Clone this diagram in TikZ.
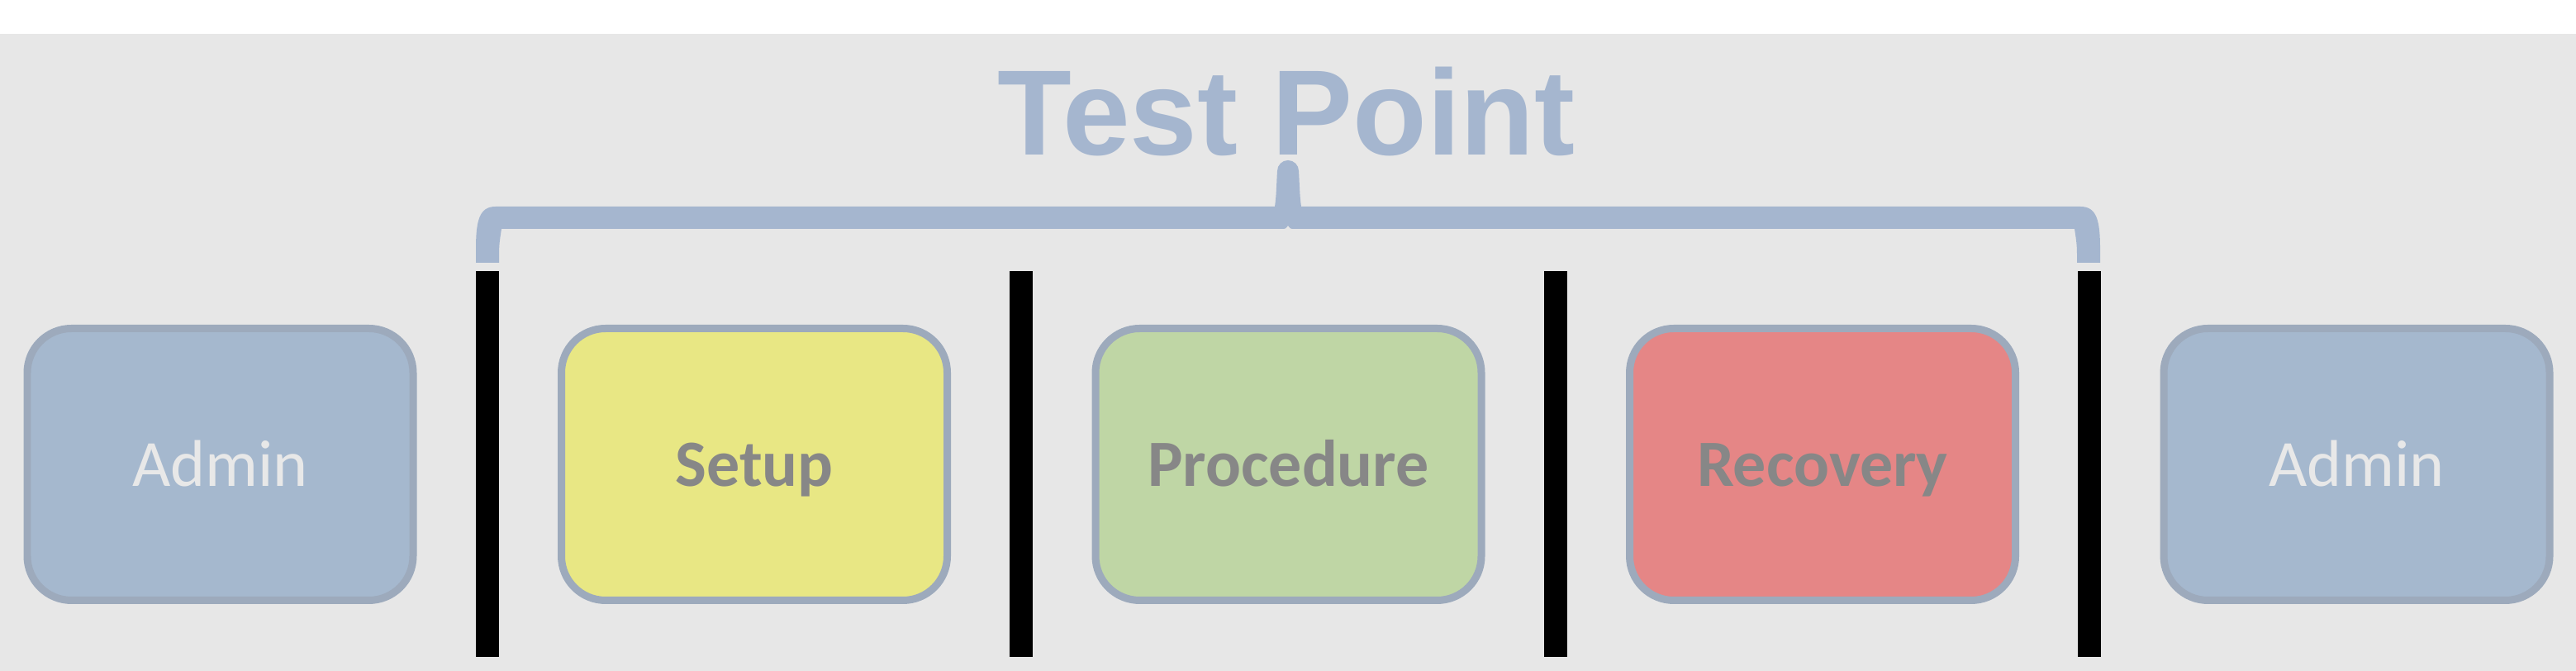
\documentclass[tikz,border=0pt]{standalone}
\usepackage{fontspec}
\setmainfont{Carlito}
\newfontfamily\titlefont{Liberation Sans}
\usepackage{xcolor}
\usetikzlibrary{positioning, calc}

\definecolor{bggrey}{HTML}{E7E7E7}
\definecolor{edgegrey}{HTML}{9DAABC}
\definecolor{adminblue}{HTML}{A5B8CE}
\definecolor{braceblue}{HTML}{A5B6CF}
\definecolor{setupyellow}{HTML}{E8E784}
\definecolor{procgreen}{HTML}{BFD6A5}
\definecolor{recovred}{HTML}{E58686}
\definecolor{txtgrey}{HTML}{878787}
\definecolor{admintxt}{HTML}{E8E8E8}

\begin{document}
\begin{tikzpicture}[
  node distance = 17.95mm,
  phase/.style = {draw=edgegrey, line width=2.56pt, rounded corners=5.35mm,
                  minimum width=46.7mm, minimum height=32.9mm,
                  inner sep=0pt, outer sep=0pt, text height=5.4mm, text depth=0mm,
                  font=\fontsize{22.76}{27}\selectfont\bfseries, text=txtgrey},
  admin/.style = {phase, fill=adminblue,
                  font=\fontsize{22.76}{27}\selectfont, text=admintxt},
  divider/.style = {fill=black, minimum width=2.8mm, minimum height=46.7mm,
                    inner sep=0pt, outer sep=0pt}
]
\useasboundingbox (0,0) rectangle (31.18,8.12);
\fill[white] (0,0) rectangle (31.18,8.12);
\fill[bggrey] (0,0) rectangle (31.18,7.71);

\node[admin] (adm1) at (2.665,2.50) {Admin};
\node[phase, fill=setupyellow, right=of adm1] (setup) {Setup};
\node[phase, fill=procgreen, right=of setup] (proc) {Procedure};
\node[phase, fill=recovred, right=of proc] (recov) {Recovery};
\node[admin, right=of recov] (adm2) {Admin};

\node[divider] (d1) at ($(adm1.east)!0.5!(setup.west)$) {};
\node[divider] (d2) at ($(setup.east)!0.5!(proc.west)$) {};
\node[divider] (d3) at ($(proc.east)!0.5!(recov.west)$) {};
\node[divider] (d4) at ($(recov.east)!0.5!(adm2.west)$) {};

\fill[braceblue] (5.76,4.94) -- (5.76,5.10)
  .. controls (5.76,5.45) and (5.80,5.62) .. (6.00,5.62) -- (15.43,5.62)
  .. controls (15.45,5.75) and (15.45,5.90) .. (15.46,6.05)
  arc[start angle=180, end angle=0, radius=0.13]
  .. controls (15.73,5.90) and (15.73,5.75) .. (15.75,5.62) -- (25.18,5.62)
  .. controls (25.38,5.62) and (25.42,5.45) .. (25.42,5.10) -- (25.42,4.94)
  -- (25.14,4.94) .. controls (25.14,5.15) .. (25.11,5.35) -- (15.67,5.35)
  .. controls (15.62,5.35) .. (15.59,5.39) .. controls (15.56,5.35) .. (15.51,5.35)
  -- (6.07,5.35) .. controls (6.04,5.15) .. (6.04,4.94) -- cycle;

\node[font=\titlefont\bfseries\fontsize{41.8}{50}\selectfont, text=braceblue,
      anchor=base, inner sep=0pt] (title) at (15.57,6.24) {Test Point};
\end{tikzpicture}
\end{document}
